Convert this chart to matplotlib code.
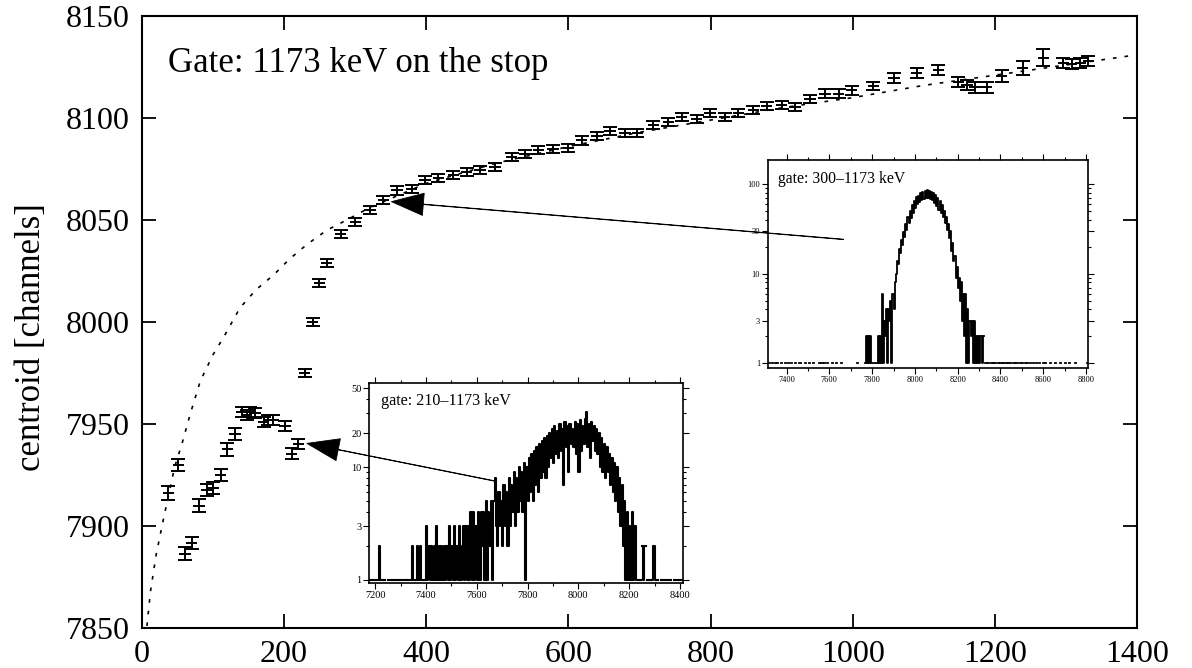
import numpy as np
import matplotlib
matplotlib.use("Agg")
import matplotlib.pyplot as plt
from matplotlib.ticker import FixedLocator, MultipleLocator, NullFormatter, FixedFormatter

plt.rcParams["font.family"] = ["Liberation Serif", "DejaVu Serif"]

# ---------------------------------------------------------------------------
# Data
# ---------------------------------------------------------------------------

# centroid vs gate energy
gate_x = [37, 51, 60.5, 70, 80.5, 91, 100, 110.5, 120, 131,
          140.5, 147.5, 152, 159, 171, 178, 185, 201, 210.5, 220,
          229, 240, 249.5, 260, 279.5, 300, 321, 339.5, 359, 379.5,
          398, 417, 438, 457, 475.5, 496.5, 520, 539, 557.5, 578.5,
          600, 618.5, 640, 658.5, 679.5, 697, 719.5, 740.5, 759.5, 780.5,
          799, 820, 839, 860, 879, 900, 919, 940, 961, 980,
          998.5, 1029, 1058, 1090, 1120.5, 1148.5, 1160.5, 1172, 1188.5, 1209.5,
          1239, 1268, 1296.5, 1308, 1320, 1331.5]
centroid = [7916, 7930, 7886.5, 7891.5, 7910, 7917.5, 7918.5, 7925, 7937.5, 7945,
            7956, 7954.5, 7956, 7955.5, 7951, 7952, 7952, 7949, 7935.5, 7940,
            7975, 8000, 8019, 8029, 8043, 8049, 8055, 8060, 8064.5, 8065,
            8069.5, 8070.5, 8072, 8073.5, 8074.5, 8076, 8081, 8082.5, 8084.5, 8085,
            8085.5, 8089, 8091, 8093.5, 8092.5, 8092.5, 8096.5, 8098, 8100.5, 8099.5,
            8102.5, 8100.5, 8102.5, 8104, 8106, 8106.5, 8105.5, 8109.5, 8112, 8112,
            8113.5, 8115.5, 8119.5, 8122, 8123.5, 8117.5, 8116, 8115, 8115, 8120.5,
            8124.5, 8129.5, 8127, 8126.5, 8127, 8128]
centroid_err = [3.4, 3.0, 3.0, 3.0, 3.0, 3.0, 3.0, 3.0, 3.0, 3.0,
                2.5, 2.5, 2.5, 2.5, 2.5, 2.5, 2.5, 2.5, 2.5, 2.5,
                2, 2, 2, 2, 2, 2, 2, 2, 2, 2,
                2, 2, 2, 2, 2, 2, 2, 2, 2, 2,
                2, 2, 2, 2, 2, 2, 2, 2, 2, 2,
                2, 2, 2, 2, 2, 2, 2, 2, 2, 2,
                2, 2, 2.5, 2.5, 2.5, 2.5, 2.5, 2.5, 2.5, 3.0,
                3.3, 4.1, 2.5, 2.5, 2.5, 2.5]
gate_halfwidth = 8

# dotted fit curve
fit_x = [7, 12, 20, 30, 46, 56, 68, 82, 100, 114, 138, 161, 185, 208, 232,
         260, 288, 320, 360, 400, 450, 500, 600, 700, 800, 900, 1000, 1100,
         1200, 1300, 1400]
fit_y = [7851, 7868, 7886, 7903, 7929, 7940, 7955, 7971, 7984, 7992, 8007,
         8016, 8023, 8031, 8038, 8045, 8050, 8056, 8062, 8068, 8073, 8078,
         8086, 8093, 8099, 8105, 8110, 8116, 8121, 8126, 8131]

# arrows: (tip x, tip y, tail x, tail y) in main-axes data units
arrow_upper = (351, 8059, 987, 8040.5)
arrow_lower = (232, 7940.5, 497, 7922)

# spectrum, gate 210-1173 keV (5-channel bins from 7180)
spec210_start, spec210_bin = 7180, 5
spec210_counts = [
    1, 0, 1, 0, 0, 1, 1, 2, 1, 1, 0, 1, 0, 0, 1, 0, 1, 0, 0, 1,
    0, 1, 0, 1, 0, 0, 1, 0, 1, 0, 1, 0, 1, 2, 1, 0, 1, 2, 1, 2,
    1, 1, 1, 1, 3, 1, 2, 1, 2, 1, 2, 1, 3, 1, 2, 1, 2, 1, 2, 1,
    2, 1, 3, 1, 2, 1, 3, 1, 2, 1, 3, 1, 2, 3, 1, 3, 1, 3, 1, 4,
    1, 4, 1, 3, 1, 4, 1, 4, 2, 4, 1, 5, 1, 4, 2, 5, 1, 5, 8, 3,
    2, 6, 3, 5, 2, 7, 3, 6, 2, 8, 3, 7, 4, 9, 3, 8, 4, 10, 5, 9,
    4, 11, 1, 10, 5, 12, 6, 13, 5, 14, 7, 15, 6, 16, 8, 17, 9, 18, 8, 19,
    10, 20, 12, 22, 11, 23, 13, 21, 12, 24, 14, 22, 7, 25, 15, 23, 9, 24, 16, 22,
    15, 25, 13, 24, 9, 26, 14, 23, 16, 27, 31, 15, 24, 12, 25, 17, 23, 14, 22, 13,
    20, 10, 18, 9, 16, 8, 15, 9, 13, 7, 12, 6, 11, 5, 10, 4, 8, 3, 7, 2,
    5, 1, 4, 1, 3, 1, 4, 1, 3, 1, 1, 0, 1, 0, 2, 1, 2, 0, 1, 0,
    1, 0, 1, 2, 1, 0, 1, 0, 0, 1, 0, 1, 0, 0, 1, 0, 1, 0, 0, 1,
    0, 1, 0, 1, 0, 1,
]

# spectrum, gate 300-1173 keV (5-channel bins from 7310)
spec300_start, spec300_bin = 7310, 5
spec300_counts = [
    0, 1, 0, 0, 1, 0, 0, 1, 0, 1, 0, 0, 0, 1, 0, 0, 1, 0, 0, 1,
    0, 0, 1, 0, 0, 0, 1, 0, 0, 0, 1, 0, 0, 0, 0, 1, 0, 0, 0, 1,
    0, 0, 0, 1, 0, 0, 0, 0, 1, 0, 1, 1, 0, 1, 0, 0, 1, 0, 0, 0,
    1, 0, 0, 0, 1, 0, 0, 0, 0, 1, 0, 0, 0, 0, 0, 0, 0, 0, 0, 0,
    0, 0, 0, 0, 1, 0, 0, 0, 0, 0, 0, 1, 2, 1, 2, 1, 2, 1, 1, 1,
    1, 1, 1, 2, 1, 2, 1, 6, 1, 3, 2, 4, 1, 4, 3, 5, 1, 6, 4, 8,
    10, 14, 13, 19, 17, 24, 21, 29, 26, 36, 31, 43, 37, 50, 42, 58, 48, 65, 54, 72,
    60, 74, 64, 79, 67, 83, 69, 85, 70, 86, 70, 85, 69, 83, 67, 80, 62, 76, 57, 70,
    51, 65, 48, 58, 43, 50, 37, 43, 31, 36, 25, 30, 18, 22, 14, 16, 9, 12, 7, 9,
    5, 8, 3, 6, 2, 6, 1, 4, 1, 3, 2, 3, 1, 3, 1, 2, 1, 2, 1, 2,
    2, 1, 2, 0, 1, 0, 1, 0, 0, 1, 0, 1, 0, 1, 0, 0, 1, 0, 1, 0,
    1, 0, 1, 1, 0, 1, 0, 1, 0, 0, 1, 1, 0, 1, 0, 0, 1, 0, 1, 0,
    0, 1, 0, 1, 0, 0, 1, 0, 1, 0, 0, 1, 0, 0, 1, 0, 0, 0, 1, 0,
    1, 0, 0, 0, 1, 0, 0, 0, 0, 1, 0, 0, 0, 0, 1, 0, 0, 0, 1, 0,
    0, 0, 1, 0, 0, 0, 0, 0, 1, 0, 0, 0, 0, 0, 0, 0, 0, 0, 0, 1,
]


def draw_spectrum(ax, start, width, counts, lw):
    c = np.asarray(counts, dtype=float)
    edges = start + width * np.arange(len(c) + 1)
    y = np.where(c > 0, c, np.nan)   # empty channels leave a gap on the log axis
    ax.step(edges, np.append(y, y[-1]), where="post", color="black", lw=lw)


def style_inset(ax, labelsize):
    ax.tick_params(which="both", direction="out", top=True, right=True,
                   labelsize=labelsize, pad=1.5, width=0.8)
    ax.tick_params(which="major", length=4)
    ax.tick_params(which="minor", length=2)
    for sp in ax.spines.values():
        sp.set_linewidth(1.2)


# ---------------------------------------------------------------------------
# Figure
# ---------------------------------------------------------------------------

fig = plt.figure(figsize=(11.92, 6.68), dpi=100)
main_box = [0.1191, 0.0599, 0.8348, 0.9161]
ax = fig.add_axes(main_box)

ax.errorbar(gate_x, centroid, yerr=centroid_err, fmt="none", ecolor="black",
            elinewidth=1.4, capsize=4.8, capthick=1.4)
ax.errorbar(gate_x, centroid, xerr=gate_halfwidth, fmt="none", ecolor="black",
            elinewidth=1.4, capsize=0)
ax.plot(fit_x, fit_y, color="black", lw=1.2, linestyle=(0, (2.2, 4.8)))

ax.set_xlim(0, 1400)
ax.set_ylim(7850, 8150)
ax.set_xticks(np.arange(0, 1401, 200))
ax.set_yticks(np.arange(7850, 8151, 50))
ax.tick_params(direction="in", length=10, width=1.3, labelsize=23,
               top=True, right=True, pad=9)
for sp in ax.spines.values():
    sp.set_linewidth(1.5)
ax.set_ylabel("centroid [channels]", fontsize=25)
ax.yaxis.set_label_coords(-0.094, 0.475)
ax.text(0.026, 0.9085, "Gate: 1173 keV on the stop", transform=ax.transAxes,
        fontsize=25, va="baseline", ha="left")

# ── lower inset: gate 210-1173 keV ─────────────────────────────────────────
ins1 = fig.add_axes([0.3096, 0.1272, 0.2634, 0.2994])
draw_spectrum(ins1, spec210_start, spec210_bin, spec210_counts, lw=1.5)
ins1.set_yscale("log")
ins1.set_xlim(7176, 8412)
ins1.set_ylim(0.94, 55.7)
ins1.xaxis.set_major_locator(MultipleLocator(200))
ins1.xaxis.set_minor_locator(MultipleLocator(100))
ins1.yaxis.set_major_locator(FixedLocator([1, 3, 10, 20, 50]))
ins1.yaxis.set_major_formatter(FixedFormatter(["1", "3", "10", "20", "50"]))
ins1.yaxis.set_minor_locator(FixedLocator([2, 4, 5, 6, 7, 8, 9, 30, 40]))
ins1.yaxis.set_minor_formatter(NullFormatter())
style_inset(ins1, 7.5)
ins1.text(0.037, 0.89, "gate: 210–1173 keV", transform=ins1.transAxes,
          fontsize=11.6, va="baseline")

# ── upper inset: gate 300-1173 keV ─────────────────────────────────────────
ins2 = fig.add_axes([0.644, 0.4487, 0.269, 0.3118])
draw_spectrum(ins2, spec300_start, spec300_bin, spec300_counts, lw=1.3)
ins2.set_yscale("log")
ins2.set_xlim(7311, 8811)
ins2.set_ylim(0.88, 187)
ins2.xaxis.set_major_locator(MultipleLocator(200))
ins2.xaxis.set_minor_locator(MultipleLocator(100))
ins2.yaxis.set_major_locator(FixedLocator([1, 3, 10, 30, 100]))
ins2.yaxis.set_major_formatter(FixedFormatter(["1", "3", "10", "30", "100"]))
ins2.yaxis.set_minor_locator(FixedLocator([2, 4, 5, 6, 7, 8, 9, 20, 40, 50, 60, 70, 80, 90]))
ins2.yaxis.set_minor_formatter(NullFormatter())
style_inset(ins2, 6)
ins2.text(0.032, 0.89, "gate: 300–1173 keV", transform=ins2.transAxes,
          fontsize=11.3, va="baseline")

# ── arrows drawn on an overlay so they sit above the insets ────────────────
ov = fig.add_axes(main_box, frameon=False)
ov.set_xlim(0, 1400)
ov.set_ylim(7850, 8150)
ov.axis("off")
arrow_kw = dict(facecolor="black", edgecolor="black", width=0.3, lw=0.6,
                headwidth=16, headlength=23, shrink=0)
for tip_x, tip_y, tail_x, tail_y in (arrow_upper, arrow_lower):
    ov.annotate("", xy=(tip_x, tip_y), xytext=(tail_x, tail_y), arrowprops=arrow_kw)

fig.savefig("out.png", dpi=100)
